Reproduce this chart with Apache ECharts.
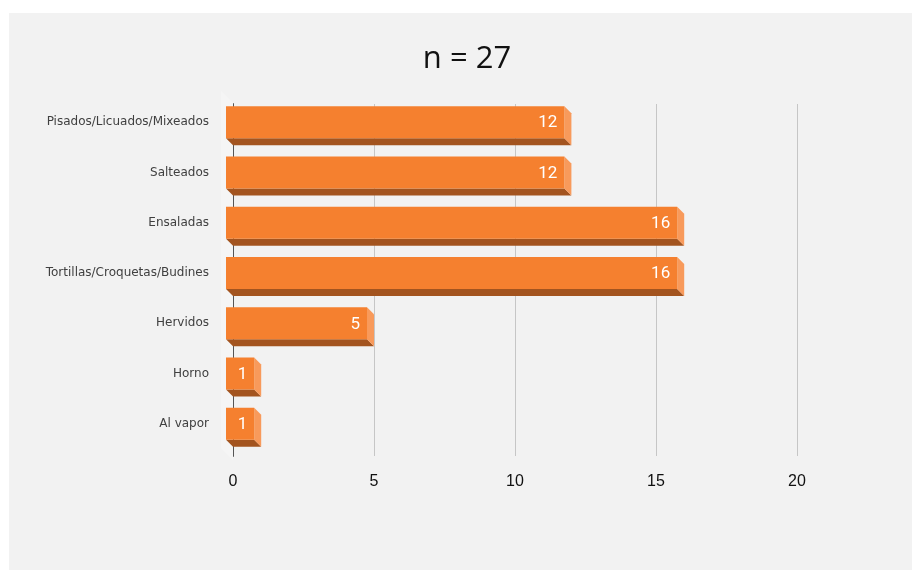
<!DOCTYPE html>
<html>
<head>
<meta charset="utf-8">
<script src="https://cdn.jsdelivr.net/npm/echarts@6/dist/echarts.min.js"></script>
<style>
  html, body { margin: 0; padding: 0; background: #ffffff; }
  #panel { position: absolute; left: 9px; top: 13px; width: 903px; height: 557px; background: #f2f2f2; }
  #chart { position: absolute; left: 0; top: 0; width: 912px; height: 570px; }
</style>
</head>
<body>
<div id="panel"></div>
<div id="chart"></div>
<script>
// Cooking methods, listed top to bottom
const categories = [
  'Pisados/Licuados/Mixeados',
  'Salteados',
  'Ensaladas',
  'Tortillas/Croquetas/Budines',
  'Hervidos',
  'Horno',
  'Al vapor'
];
const counts = [12, 12, 16, 16, 5, 1, 1];
const xTicks = [0, 5, 10, 15, 20];
const titleText = 'n = 27';

// 3D look: depth offset and front-face half thickness (px)
const DEPTH = 7;
const HALF = 16;
const FRONT = '#F5802F';
const BOTTOM = '#A3541F';
const SIDE = '#F89A5B';

const chart = echarts.init(document.getElementById('chart'), null, { renderer: 'canvas' });

function renderBar(params, api) {
  const v = api.value(0);
  const cat = api.value(1);
  const p0 = api.coord([0, cat]);
  const p1 = api.coord([v, cat]);
  const cy = p0[1] - DEPTH;           // front face vertical centre
  const x0 = p0[0] - DEPTH;
  const x1 = p1[0] - DEPTH;
  const top = cy - HALF, bot = cy + HALF;
  return {
    type: 'group',
    children: [
      { type: 'polygon', shape: { points: [[x0, bot], [x1, bot], [x1 + DEPTH, bot + DEPTH], [x0 + DEPTH, bot + DEPTH]] },
        style: { fill: BOTTOM } },
      { type: 'polygon', shape: { points: [[x1, top], [x1 + DEPTH, top + DEPTH], [x1 + DEPTH, bot + DEPTH], [x1, bot]] },
        style: { fill: SIDE } },
      { type: 'rect', shape: { x: x0, y: top, width: x1 - x0, height: bot - top },
        style: { fill: FRONT } },
      { type: 'text', style: { x: x1 - 7, y: cy + 1, text: String(v), align: 'right', verticalAlign: 'middle',
        fill: '#ffffff', font: '17px Roboto, "Open Sans", sans-serif' } }
    ]
  };
}

// faint side wall to the left of the value axis
function renderWall(params, api) {
  const cs = params.coordSys;
  const xb = api.coord([0, 0])[0];
  const yTop = cs.y, yBot = cs.y + cs.height;
  return {
    type: 'polygon',
    shape: { points: [[xb - 12, yTop - 13], [xb, yTop - 1], [xb, yBot + 4], [xb - 12, yBot - 8]] },
    style: { fill: '#f5f5f5' },
    silent: true
  };
}

chart.setOption({
  animation: false,
  title: {
    text: titleText,
    left: 462,
    top: 39,
    textAlign: 'center',
    textStyle: { fontSize: 31, fontWeight: 'normal', color: '#111111', fontFamily: '"Open Sans", sans-serif' }
  },
  grid: { left: 233, right: 115, top: 104, bottom: 114, containLabel: false },
  xAxis: {
    type: 'value',
    min: xTicks[0],
    max: xTicks[xTicks.length - 1],
    interval: xTicks[1] - xTicks[0],
    axisLine: { show: false },
    axisTick: { show: false },
    splitLine: { lineStyle: { color: '#c6c6c6', width: 1 } },
    axisLabel: { margin: 18, fontSize: 16, color: '#111111', fontFamily: '"Liberation Sans", Arial, sans-serif' }
  },
  yAxis: {
    type: 'category',
    data: categories,
    inverse: true,
    axisLine: { show: true, lineStyle: { color: '#555555', width: 2 } },
    axisTick: { show: false },
    splitLine: { show: false },
    axisLabel: {
      margin: 24,
      fontSize: 12,
      lineHeight: 14,
      verticalAlign: 'bottom',
      color: '#404040',
      fontFamily: '"DejaVu Sans", sans-serif'
    }
  },
  series: [
    {
      type: 'custom',
      renderItem: renderWall,
      data: [[0, 0]],
      z: 1,
      silent: true
    },
    {
      type: 'custom',
      renderItem: renderBar,
      encode: { x: 0, y: 1 },
      data: counts.map(function (c, i) { return [c, i]; }),
      z: 3
    }
  ]
});
</script>
</body>
</html>
